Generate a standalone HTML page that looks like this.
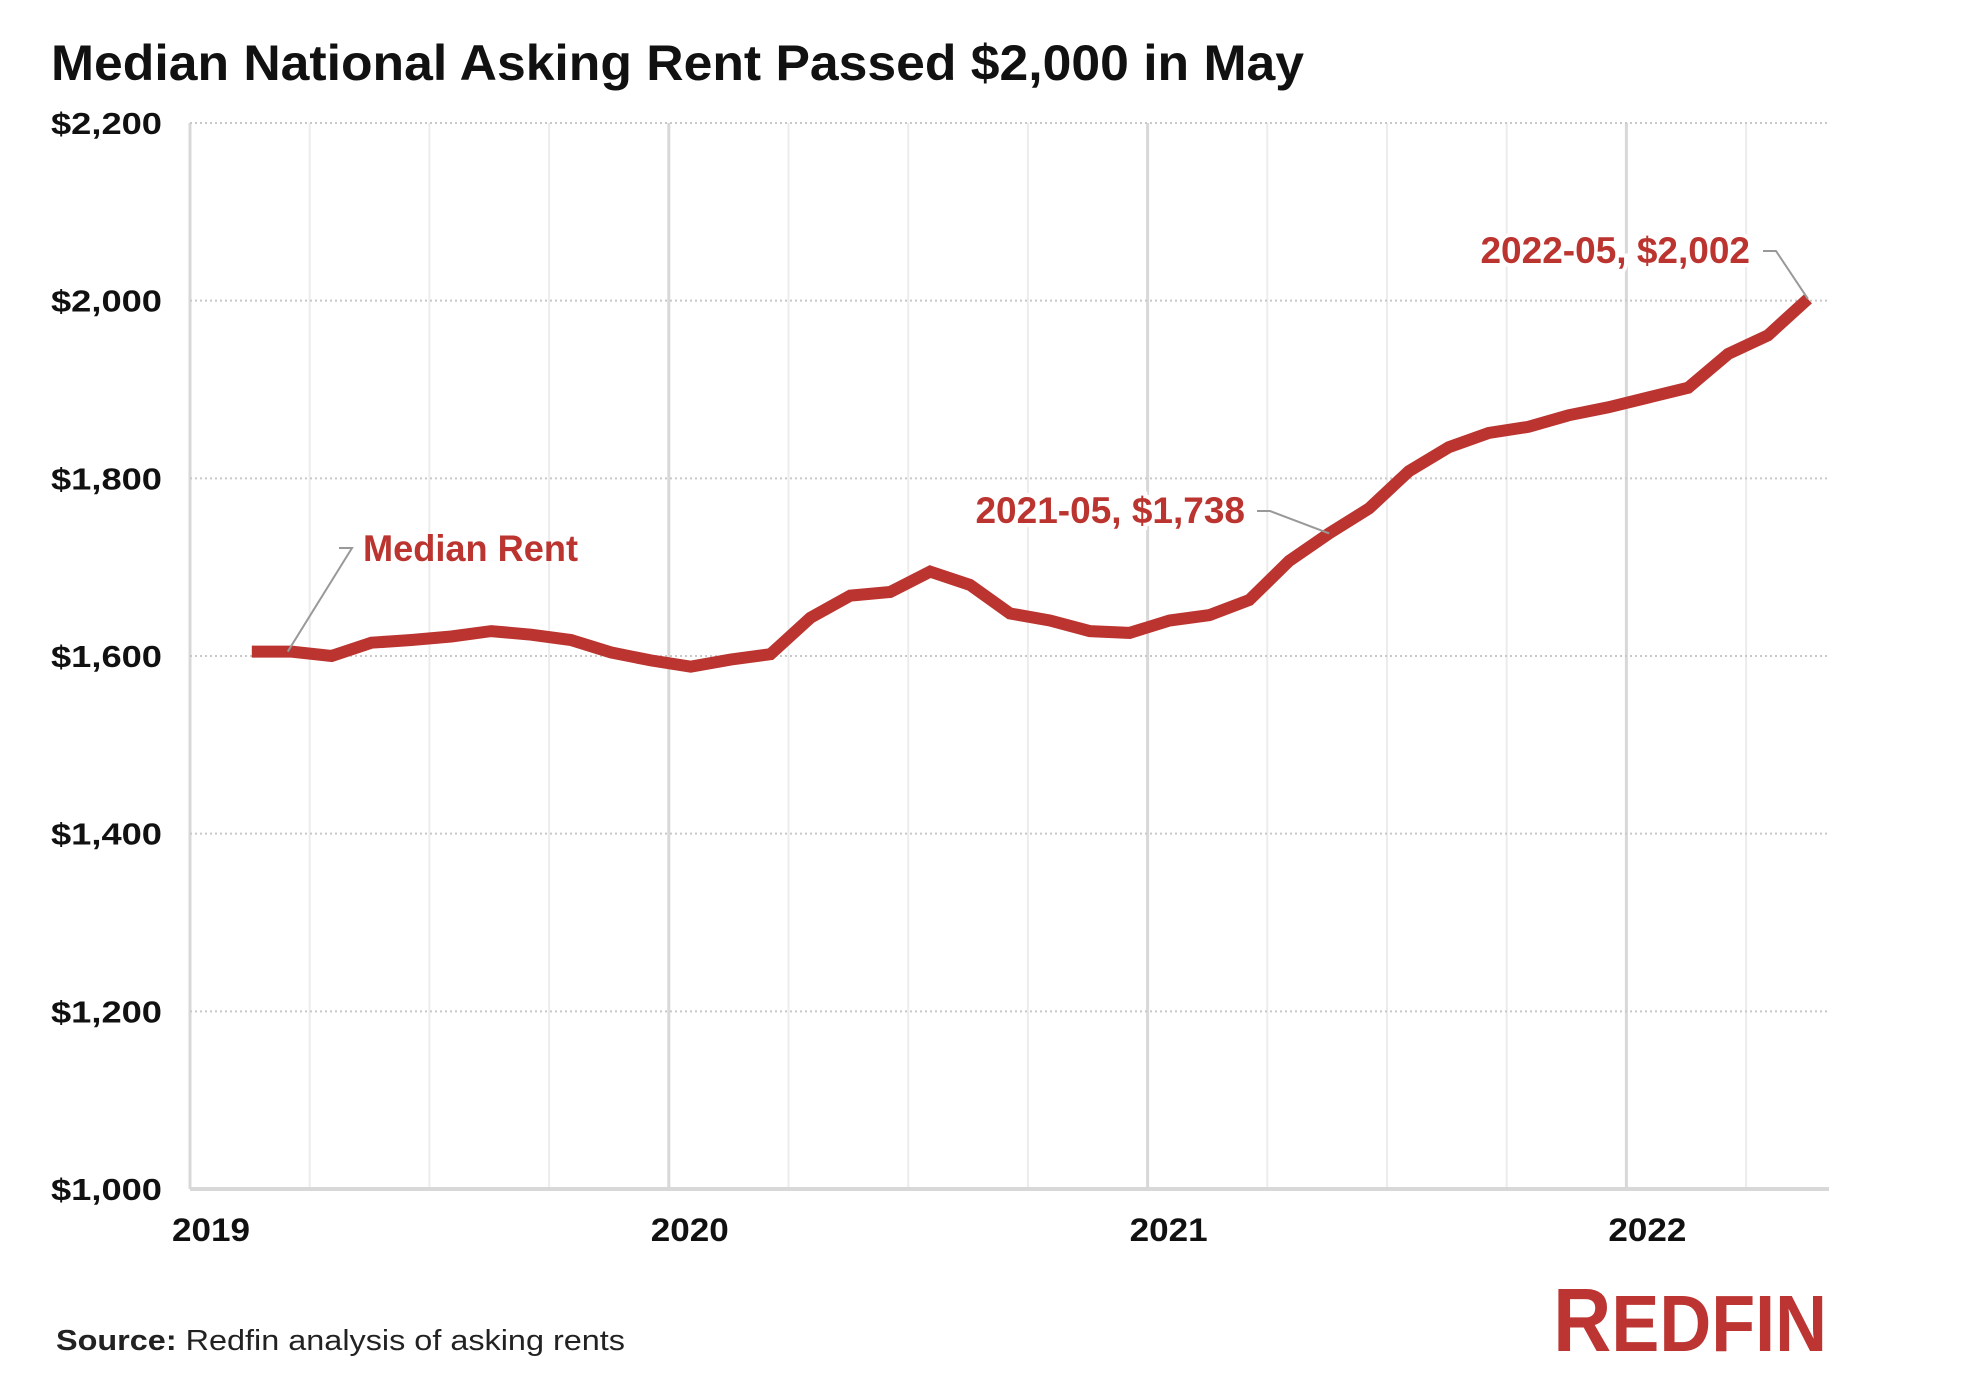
<!DOCTYPE html>
<html><head><meta charset="utf-8"><style>
html,body{margin:0;padding:0;background:#fff;}
svg{display:block;}
text{font-family:"Liberation Sans",sans-serif;}
</style></head><body>
<svg id="chart" width="1984" height="1394" viewBox="0 0 1984 1394" xmlns="http://www.w3.org/2000/svg">
<rect x="0" y="0" width="1984" height="1394" fill="#fff"/>
<text x="51" y="80" font-size="50" font-weight="bold" fill="#111" textLength="1253" lengthAdjust="spacingAndGlyphs">Median National Asking Rent Passed $2,000 in May</text>
<g id="grid"></g>
<g id="yaxis"></g>
<g id="xaxis"></g>
<g id="series"></g>
<g id="annots"></g>
<text x="56" y="1350" font-size="29" fill="#222" textLength="569" lengthAdjust="spacingAndGlyphs"><tspan font-weight="bold">Source:</tspan> Redfin analysis of asking rents</text>
<g>
<text x="1553" y="1351" font-size="88" font-weight="bold" fill="#bc3532" textLength="274" lengthAdjust="spacingAndGlyphs"><tspan font-size="90">R</tspan><tspan font-size="80">EDFIN</tspan></text>
</g>
</svg>
<script>
const monthLabels = ["2019-02","2019-03","2019-04","2019-05","2019-06","2019-07","2019-08","2019-09","2019-10","2019-11","2019-12","2020-01","2020-02","2020-03","2020-04","2020-05","2020-06","2020-07","2020-08","2020-09","2020-10","2020-11","2020-12","2021-01","2021-02","2021-03","2021-04","2021-05","2021-06","2021-07","2021-08","2021-09","2021-10","2021-11","2021-12","2022-01","2022-02","2022-03","2022-04","2022-05"];
const rentValues = [1605,1605,1600,1615,1618,1622,1628,1624,1618,1604,1595,1588,1596,1602,1643,1668,1672,1695,1680,1648,1640,1628,1626,1640,1646,1663,1707,1738,1766,1808,1835,1851,1858,1871,1880,1891,1902,1940,1961,2002];
const yTicks = [1000,1200,1400,1600,1800,2000,2200];
const yTickLabels = ["$1,000","$1,200","$1,400","$1,600","$1,800","$2,000","$2,200"];
const xYears = [2019,2020,2021,2022];
const xYearLabels = ["2019","2020","2021","2022"];

const NS="http://www.w3.org/2000/svg";
const L=190,R=1829,T=123,B=1189;
function y(v){return B-(v-1000)*(B-T)/1200;}
function xt(t){return L+39.9*t;}
function xm(label){const [yy,mm]=label.split("-").map(Number);return xt((yy-2019)*12+(mm-1)+0.55);}
function mk(tag,attrs,parent){const e=document.createElementNS(NS,tag);for(const k in attrs)e.setAttribute(k,attrs[k]);parent.appendChild(e);return e;}

const grid=document.getElementById("grid");
for(let q=0;q<=13;q++){
  const x=xt(q*3);
  const ln=mk("line",{x1:x,x2:x,y1:T,y2:B,stroke:q%4===0?"#d8d8d8":"#ececec","stroke-width":q%4===0?3:2},grid);
  
  
}
const ya=document.getElementById("yaxis");
yTicks.forEach((v,i)=>{
  if(v>1000){
    const g=mk("line",{x1:L,x2:R,y1:y(v),y2:y(v),stroke:"#c8c8c8","stroke-width":2,"stroke-dasharray":"2 3"},grid);
    
    
  }
  const t=mk("text",{x:162,y:y(v)+11,"text-anchor":"end","font-size":31,"font-weight":"bold",fill:"#111",textLength:111,lengthAdjust:"spacingAndGlyphs"},ya);
  t.textContent=yTickLabels[i];
  
  
});
const base=mk("line",{x1:L,x2:R,y1:B,y2:B,stroke:"#d8d8d8","stroke-width":4},grid);


const xa=document.getElementById("xaxis");
xYears.forEach((yr,i)=>{
  const t=mk("text",{x:xt((yr-2019)*12)+21,y:1241,"text-anchor":"middle","font-size":32,"font-weight":"bold",fill:"#111",textLength:78,lengthAdjust:"spacingAndGlyphs"},xa);
  t.textContent=xYearLabels[i];
  
  
});

const s=document.getElementById("series");
const pts=rentValues.map((v,i)=>xm(monthLabels[i]).toFixed(1)+","+y(v).toFixed(1)).join(" ");
const pl=mk("polyline",{points:pts,fill:"none",stroke:"#bb342f","stroke-width":12,"stroke-linejoin":"miter","stroke-linecap":"butt"},s);



const an=document.getElementById("annots");
function annot(idx,text,tx,ty,lx){
  const px=xm(monthLabels[idx]),py=y(rentValues[idx]);
  const ld=mk("polyline",{points:`${lx},${ty-12} ${lx+13},${ty-12} ${px},${py}`,fill:"none",stroke:"#999","stroke-width":2},an);
  
  
  const t=mk("text",{x:tx,y:ty,"text-anchor":"end","font-size":37,"font-weight":"bold",fill:"#bb342f",stroke:"#fff","stroke-width":8,"paint-order":"stroke"},an);
  t.textContent=text;
  
  
}
annot(27,"2021-05, $1,738",1245,523,1257);
annot(39,"2022-05, $2,002",1750,263,1763);
const p0x=xm(monthLabels[1])-4,p0y=y(rentValues[1]);
const ml=mk("polyline",{points:`339,548 352,548 ${p0x},${p0y}`,fill:"none",stroke:"#999","stroke-width":2},an);


const mt=mk("text",{x:363,y:561,"font-size":37,"font-weight":"bold",fill:"#bb342f",textLength:215,lengthAdjust:"spacingAndGlyphs"},an);
mt.textContent="Median Rent";


</script>
</body></html>
